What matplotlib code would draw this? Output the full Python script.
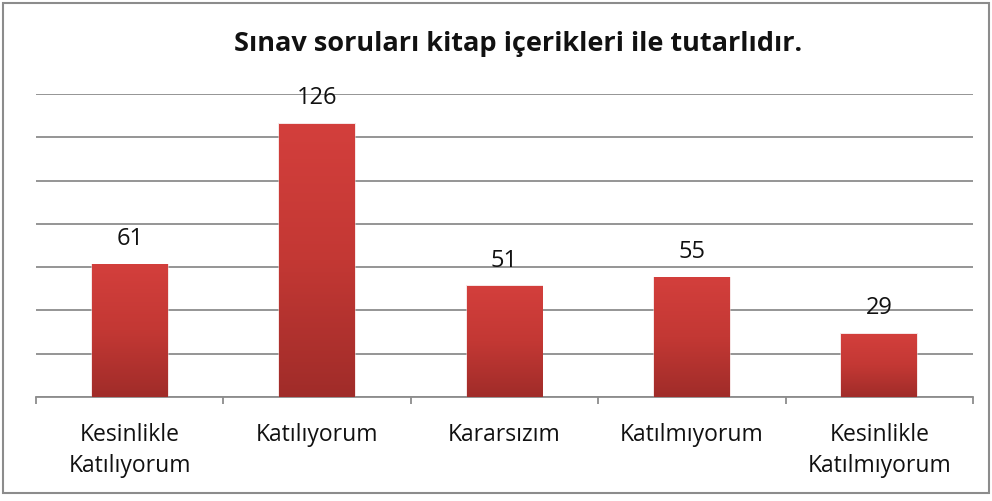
import numpy as np
import matplotlib
matplotlib.use("Agg")
import matplotlib.pyplot as plt
from matplotlib.patches import Rectangle
from matplotlib.colors import LinearSegmentedColormap

title = "Sınav soruları kitap içerikleri ile tutarlıdır."
categories = ["Kesinlikle\nKatılıyorum", "Katılıyorum", "Kararsızım",
              "Katılmıyorum", "Kesinlikle\nKatılmıyorum"]
values = [61, 126, 51, 55, 29]
y_max = 140
y_step = 20

plt.rcParams["font.family"] = ["Open Sans", "DejaVu Sans"]

W, H = 992, 501
fig = plt.figure(figsize=(W / 100, H / 100), dpi=100)
fig.patch.set_facecolor("white")

# outer frame
fig.add_artist(Rectangle((3 / W, 8 / H), 986 / W, 490 / H, transform=fig.transFigure,
                         fill=False, edgecolor="#8c8c8c", linewidth=1.5))

ax = fig.add_axes([36 / W, 104 / H, 937 / W, 303 / H])
ax.set_xlim(-0.5, len(values) - 0.5)
ax.set_ylim(0, y_max)

for s in ["top", "right", "left"]:
    ax.spines[s].set_visible(False)
ax.spines["bottom"].set_color("#8c8c8c")
ax.spines["bottom"].set_linewidth(1.3)

ax.set_yticks(np.arange(0, y_max + 1, y_step))
ax.set_yticklabels([])
ax.tick_params(axis="y", length=0)
ax.yaxis.grid(True, color="#8c8c8c", linewidth=1.3)
ax.set_axisbelow(True)

ax.set_xticks(np.arange(-0.5, len(values), 1.0))
ax.set_xticklabels([])
ax.tick_params(axis="x", direction="out", length=5, color="#8c8c8c", width=1.3)

cmap = LinearSegmentedColormap.from_list("barred", ["#a02c29", "#c33834", "#d33f3c"])
grad = np.linspace(0, 1, 256).reshape(-1, 1)
bw = 0.404
for i, v in enumerate(values):
    # soft halo
    ax.add_patch(Rectangle((i - bw / 2 - 0.006, 0), bw + 0.012, v + 0.6,
                           facecolor="#efcdcc", edgecolor="none", alpha=0.5, zorder=2))
    ax.imshow(grad, extent=(i - bw / 2, i + bw / 2, 0, v), origin="lower",
              cmap=cmap, aspect="auto", zorder=3, interpolation="bilinear")
    ax.text(i, v + 12, str(v), ha="center", va="center", fontsize=17,
            color="#111111", zorder=4)
    ax.text(i, -12, categories[i], ha="center", va="top", fontsize=16.5,
            color="#111111", linespacing=1.38)

ax.set_xlim(-0.5, len(values) - 0.5)
ax.set_ylim(0, y_max)

fig.text(518 / W, 1 - 44 / H, title, ha="center", va="center", fontsize=19.5,
         fontweight="bold", color="#111111")

fig.savefig("out.png", dpi=100, facecolor="white")
